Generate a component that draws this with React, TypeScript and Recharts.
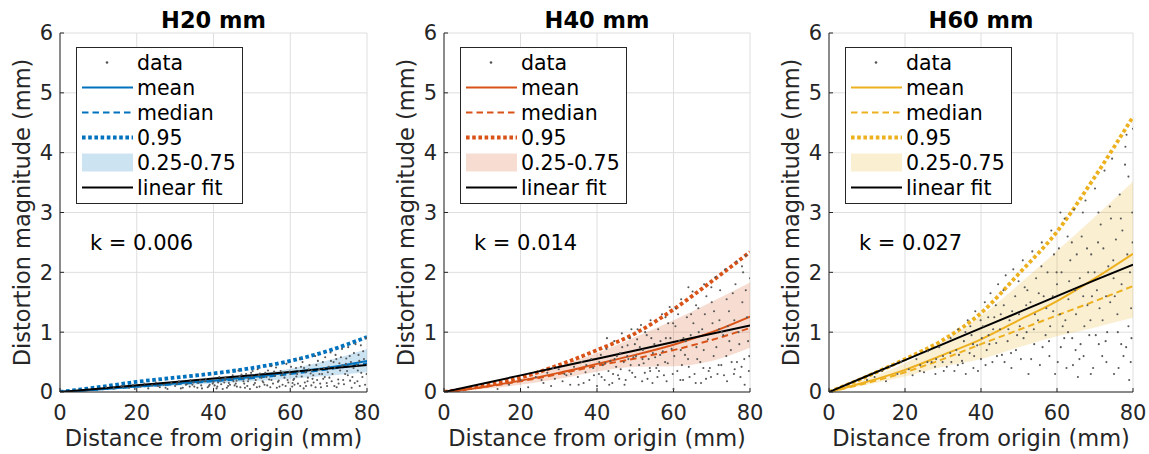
import React from 'react';
import { ComposedChart, Scatter, Line, Area, XAxis, YAxis, CartesianGrid, Legend, Customized } from 'recharts';

type Pt = [number, number];

const X_TICKS = [0, 20, 40, 60, 80];
const Y_TICKS = [0, 1, 2, 3, 4, 5, 6];
const GRID_X = [0, 10, 20, 30, 40, 50, 60, 70, 80];

const TITLES = ['H20 mm', 'H40 mm', 'H60 mm'];
const K_LABELS = ['k = 0.006', 'k = 0.014', 'k = 0.027'];
const COLORS = ['#0072BD', '#D95319', '#EDB120'];
const LEGEND_LABELS = ['data', 'mean', 'median', '0.95', '0.25-0.75', 'linear fit'];
const X_LABEL = 'Distance from origin (mm)';
const Y_LABEL = 'Distortion magnitude (mm)';

// H20
const H20_MEAN = [0, 0.04, 0.09, 0.14, 0.19, 0.25, 0.33, 0.41, 0.52];
const H20_MEDIAN = [0, 0.04, 0.09, 0.13, 0.18, 0.23, 0.3, 0.38, 0.48];
const H20_Q95 = [0, 0.08, 0.17, 0.24, 0.31, 0.4, 0.52, 0.69, 0.92];
const H20_LO = [0, 0.03, 0.07, 0.1, 0.14, 0.18, 0.22, 0.27, 0.33];
const H20_HI = [0, 0.05, 0.11, 0.16, 0.22, 0.29, 0.39, 0.53, 0.72];
const H20_FIT = [0, 0.056, 0.112, 0.168, 0.224, 0.28, 0.336, 0.392, 0.45];

// H40
const H40_MEAN = [0, 0.08, 0.19, 0.32, 0.47, 0.62, 0.79, 1.0, 1.26];
const H40_MEDIAN = [0, 0.08, 0.18, 0.3, 0.44, 0.56, 0.7, 0.87, 1.07];
const H40_Q95 = [0, 0.1, 0.24, 0.45, 0.7, 0.98, 1.38, 1.85, 2.34];
const H40_LO = [0, 0.05, 0.12, 0.22, 0.34, 0.42, 0.43, 0.52, 0.74];
const H40_HI = [0, 0.1, 0.22, 0.43, 0.65, 0.92, 1.2, 1.51, 1.83];
const H40_FIT = [0, 0.139, 0.278, 0.417, 0.556, 0.695, 0.834, 0.973, 1.11];

// H60
const H60_MEAN = [0, 0.17, 0.37, 0.62, 0.88, 1.2, 1.52, 1.9, 2.31];
const H60_MEDIAN = [0, 0.15, 0.33, 0.55, 0.8, 1.04, 1.28, 1.52, 1.77];
const H60_Q95 = [0, 0.26, 0.55, 0.87, 1.32, 1.98, 2.68, 3.6, 4.6];
const H60_LO = [0, 0.12, 0.26, 0.42, 0.55, 0.75, 0.93, 1.08, 1.24];
const H60_HI = [0, 0.22, 0.48, 0.85, 1.27, 1.8, 2.36, 2.93, 3.52];
const H60_FIT = [0, 0.267, 0.534, 0.801, 1.068, 1.335, 1.602, 1.869, 2.13];

const H20_POINTS: Pt[] = [
  [12, 0.08], [14, 0.06], [16, 0.1], [18, 0.07], [19, 0.12], [21, 0.09], [22, 0.14], [23, 0.06], [24, 0.11], [25, 0.16],
  [26, 0.08], [27, 0.12], [28, 0.05], [29, 0.15], [30, 0.1], [31, 0.18], [32, 0.07], [33, 0.13], [34, 0.2], [35, 0.09],
  [36, 0.15], [37, 0.06], [38, 0.22], [39, 0.12], [40, 0.17], [41, 0.09], [41.5, 0.25], [42, 0.13], [43, 0.2], [43.5, 0.07],
  [44, 0.15], [45, 0.28], [45.5, 0.11], [46, 0.19], [46.5, 0.36], [47, 0.08], [47.5, 0.23], [48, 0.14], [48.5, 0.3], [49, 0.18],
  [49.5, 0.05], [50, 0.26], [50.5, 0.12], [51, 0.2], [51.5, 0.38], [52, 0.09], [52.5, 0.24], [53, 0.16], [53.5, 0.32], [54, 0.11],
  [54.5, 0.21], [55, 0.43], [55.5, 0.14], [56, 0.27], [56.5, 0.07], [57, 0.19], [57.5, 0.35], [58, 0.12], [58.5, 0.24], [59, 0.47],
  [59.5, 0.16], [60, 0.3], [60.5, 0.09], [61, 0.22], [61.5, 0.4], [62, 0.14], [62.5, 0.55], [63, 0.26], [63.5, 0.06], [64, 0.33],
  [64.5, 0.18], [65, 0.45], [65.5, 0.11], [66, 0.28], [66.5, 0.6], [67, 0.2], [67.5, 0.38], [68, 0.08], [68.5, 0.5], [69, 0.25],
  [69.5, 0.15], [70, 0.42], [70.5, 0.66], [71, 0.3], [71.5, 0.1], [72, 0.55], [72.5, 0.21], [73, 0.36], [73.5, 0.72], [74, 0.13],
  [74.5, 0.47], [75, 0.28], [75.5, 0.6], [76, 0.07], [76.5, 0.4], [77, 0.8], [77.5, 0.18], [78, 0.52], [78.5, 0.32], [79, 0.68],
  [79.5, 0.12], [80, 0.45], [79.8, 0.9], [78.8, 0.25], [77.8, 0.62], [76.8, 0.15], [75.8, 0.5], [74.8, 0.35], [73.8, 0.2], [72.8, 0.48],
  [71.8, 0.62], [70.8, 0.18], [69.8, 0.33], [68.8, 0.4], [67.8, 0.14], [66.8, 0.45], [65.8, 0.22], [64.8, 0.38], [63.8, 0.16], [62.8, 0.42],
  [61.8, 0.3], [60.8, 0.2], [59.8, 0.34], [58.8, 0.1], [57.8, 0.28], [56.8, 0.17], [55.8, 0.34], [54.8, 0.08], [53.8, 0.25], [52.8, 0.18],
  [51.8, 0.28], [50.8, 0.15], [49.8, 0.32], [48.8, 0.1], [47.8, 0.18], [46.8, 0.26], [45.8, 0.14], [44.8, 0.22], [43.8, 0.1], [42.8, 0.16],
  [41.8, 0.2], [40.8, 0.06], [39.8, 0.14], [38.8, 0.1], [37.8, 0.18], [36.8, 0.11], [35.8, 0.07], [34.8, 0.16], [33.8, 0.09], [32.8, 0.12],
  [40.3, 0.11], [41.2, 0.16], [42.4, 0.05], [43.1, 0.24], [44.3, 0.12], [45.2, 0.18], [46.1, 0.09], [47.3, 0.29], [48.2, 0.07], [49.1, 0.22],
  [50.2, 0.35], [51.3, 0.08], [52.1, 0.31], [53.3, 0.12], [54.2, 0.36], [55.1, 0.2], [56.3, 0.41], [57.2, 0.09], [58.1, 0.32], [59.3, 0.2],
  [60.2, 0.42], [61.1, 0.12], [62.3, 0.35], [63.2, 0.5], [64.1, 0.1], [65.3, 0.31], [66.1, 0.16], [67.2, 0.52], [68.3, 0.3], [69.1, 0.58],
  [70.2, 0.24], [71.3, 0.5], [72.1, 0.08], [73.2, 0.58], [74.3, 0.3], [75.1, 0.75], [76.2, 0.25], [77.3, 0.45], [78.1, 0.1], [79.2, 0.55],
  [79.9, 0.3], [78.4, 0.78], [77.6, 0.36], [76.6, 0.65], [75.6, 0.19], [74.6, 0.56], [73.6, 0.44], [72.6, 0.14], [71.6, 0.4], [70.6, 0.52],
  [69.6, 0.1], [68.6, 0.22], [67.6, 0.3], [66.6, 0.08], [65.6, 0.36], [64.6, 0.24], [63.6, 0.4], [62.6, 0.1], [61.6, 0.26], [60.6, 0.15],
  [25.5, 0.1], [27.5, 0.07], [30.5, 0.14], [31.5, 0.06], [34.5, 0.12], [36.5, 0.19], [38.5, 0.08], [19.5, 0.05], [16.5, 0.08],
];

const H40_POINTS: Pt[] = [
  [14, 0.05], [17, 0.12], [20, 0.2], [22, 0.08], [24, 0.25], [26, 0.15], [27, 0.32], [28, 0.1], [29, 0.22], [30, 0.38],
  [31, 0.18], [32, 0.28], [33, 0.12], [34, 0.42], [35, 0.25], [36, 0.5], [36.5, 0.15], [37, 0.33], [38, 0.2], [38.5, 0.55],
  [39, 0.4], [40, 0.1], [40.5, 0.3], [41, 0.62], [41.5, 0.45], [42, 0.2], [42.5, 0.72], [43, 0.35], [43.5, 0.52], [44, 0.15],
  [44.5, 0.85], [45, 0.42], [45.5, 0.28], [46, 0.65], [46.5, 0.98], [47, 0.5], [47.5, 0.2], [48, 0.78], [48.5, 0.36], [49, 1.05],
  [49.5, 0.58], [50, 0.25], [50.5, 0.88], [51, 0.45], [51.5, 1.12], [52, 0.7], [52.5, 0.32], [53, 0.95], [53.5, 0.55], [54, 1.2],
  [54.5, 0.15], [55, 0.8], [55.5, 0.4], [56, 1.05], [56.5, 0.62], [57, 1.3], [57.5, 0.28], [58, 0.9], [58.5, 0.48], [59, 1.42],
  [59.5, 0.72], [60, 0.05], [60.5, 1.1], [61, 0.35], [61.5, 0.85], [62, 1.55], [62.5, 0.2], [63, 0.62], [63.5, 1.25], [64, 0.42],
  [64.5, 0.95], [65, 1.68], [65.5, 0.3], [66, 0.75], [66.5, 1.4], [67, 0.5], [67.5, 1.05], [68, 1.8], [68.5, 0.22], [69, 0.88],
  [69.5, 0.4], [70, 1.5], [70.5, 0.6], [71, 1.92], [71.5, 0.3], [72, 1.2], [72.5, 0.45], [73, 0.95], [73.5, 2.05], [74, 0.18],
  [74.5, 1.35], [75, 0.7], [75.5, 1.65], [76, 0.38], [76.5, 2.18], [77, 1.0], [77.5, 0.25], [78, 1.5], [78.5, 0.55], [79, 2.28],
  [79.5, 0.85], [80, 1.9], [79.7, 0.35], [79.2, 1.25], [78.2, 2.0], [77.2, 0.8], [76.2, 1.8], [75.2, 0.5], [74.2, 1.1], [73.2, 0.28],
  [72.2, 1.7], [71.2, 0.75], [70.2, 1.15], [69.2, 0.35], [68.2, 1.3], [67.2, 0.15], [66.2, 0.55], [65.2, 1.15], [64.2, 0.25], [63.2, 0.85],
  [62.2, 0.45], [61.2, 1.3], [60.2, 0.6], [59.2, 0.9], [58.2, 0.18], [57.2, 0.68], [56.2, 0.35], [55.2, 0.58], [54.2, 0.9], [53.2, 0.22],
  [52.2, 0.48], [51.2, 0.75], [50.2, 0.6], [49.2, 0.32], [48.2, 0.55], [47.2, 0.12], [46.2, 0.38], [45.2, 0.6], [44.2, 0.3], [43.2, 0.12],
  [42.2, 0.48], [41.2, 0.25], [39.2, 0.28], [37.2, 0.45], [35.2, 0.12], [33.2, 0.3],
  [45.8, 0.22], [48.8, 0.45], [51.8, 0.18], [53.8, 0.4], [55.8, 0.25], [57.8, 0.5], [59.8, 0.3], [61.8, 0.2], [63.8, 0.55], [65.8, 0.15],
  [67.8, 0.4], [69.8, 0.25], [71.8, 0.45], [73.8, 0.6], [75.8, 0.3], [77.8, 0.42], [79.8, 0.6], [78.6, 0.12], [76.6, 0.5], [74.6, 0.85],
  [72.6, 1.0], [70.6, 1.35], [68.6, 1.6], [66.6, 1.0], [64.6, 1.3], [62.6, 0.9], [60.6, 1.4], [58.6, 1.15], [56.6, 0.85], [54.6, 0.65],
  [52.6, 1.0], [50.6, 1.05], [48.6, 0.9], [46.6, 0.75], [44.6, 0.55], [42.6, 0.9], [40.6, 0.5], [78.9, 1.7], [77.9, 2.1], [75.9, 1.2],
  [73.9, 1.55], [71.9, 1.05], [69.9, 1.75], [67.9, 0.7], [65.9, 1.45], [63.9, 1.75], [61.9, 0.7], [59.9, 1.15], [57.9, 1.25], [55.9, 0.45],
  [53.9, 0.35], [51.9, 0.55], [49.9, 0.8], [47.9, 0.6], [31.5, 0.3], [28.5, 0.4], [25.5, 0.2],
];

const H60_POINTS: Pt[] = [
  [10, 0.2], [12, 0.25], [14, 0.35], [15, 0.18], [16, 0.42], [18, 0.3], [19, 0.5], [21, 0.38], [22, 0.28], [23, 0.55],
  [24, 0.45], [25, 0.33], [26, 0.68], [27, 0.5], [28, 0.3], [29, 0.75], [30, 0.6], [31, 0.42], [32, 0.9], [33, 0.35],
  [33.5, 0.7], [34, 1.05], [35, 0.52], [35.5, 0.85], [36, 0.3], [36.5, 1.2], [37, 0.65], [37.5, 0.95], [38, 0.4], [38.5, 1.35],
  [39, 0.78], [40, 0.55], [40.5, 1.1], [41, 1.5], [41.5, 0.7], [42, 0.95], [42.5, 1.65], [43, 0.5], [43.5, 1.25], [44, 0.82],
  [44.5, 1.8], [45, 1.05], [45.5, 0.62], [46, 1.45], [46.5, 1.95], [47, 0.85], [47.5, 1.2], [48, 0.4], [48.5, 2.05], [49, 1.6],
  [49.5, 0.95], [50, 1.3], [50.5, 0.55], [51, 2.2], [51.5, 1.75], [52, 1.0], [52.5, 0.3], [53, 1.5], [53.5, 2.35], [54, 0.8],
  [54.5, 1.9], [55, 1.2], [55.5, 0.45], [56, 2.5], [56.5, 1.6], [57, 0.95], [57.5, 2.0], [58, 0.6], [58.5, 2.7], [59, 1.35],
  [59.5, 0.3], [60, 1.8], [60.5, 2.4], [61, 0.75], [61.5, 1.1], [62, 2.9], [62.5, 0.4], [63, 1.55], [63.5, 2.2], [64, 0.9],
  [64.5, 3.05], [65, 1.3], [65.5, 0.25], [66, 1.9], [66.5, 2.6], [67, 0.6], [67.5, 3.2], [68, 1.45], [68.5, 0.95], [69, 2.3],
  [69.5, 0.4], [70, 3.4], [70.5, 1.7], [71, 0.8], [71.5, 2.8], [72, 1.2], [72.5, 3.7], [73, 0.5], [73.5, 2.1], [74, 1.5],
  [74.5, 3.9], [75, 0.3], [75.5, 2.55], [76, 1.0], [76.5, 3.3], [77, 1.8], [77.5, 0.6], [78, 4.1], [78.5, 2.3], [79, 0.2],
  [79.5, 1.4], [80, 4.4], [79.8, 3.0], [79.6, 0.9], [79.2, 2.0], [78.8, 3.6], [78.2, 0.75], [77.2, 2.7], [76.2, 0.4], [75.2, 1.6],
  [74.2, 2.9], [73.2, 1.0], [72.2, 2.4], [71.2, 1.4], [70.2, 0.95], [69.2, 1.6], [68.2, 2.0], [67.2, 1.1], [66.2, 0.8], [65.2, 2.3],
  [64.2, 0.45], [63.2, 1.85], [62.2, 1.2], [61.2, 2.0], [60.2, 0.5], [59.2, 2.3], [58.2, 1.1], [57.2, 1.4], [56.2, 0.75], [55.2, 1.65],
  [54.2, 1.3], [53.2, 0.55], [52.2, 1.7], [51.2, 0.9], [50.2, 1.1], [49.2, 0.7], [48.2, 1.35], [47.2, 1.05], [46.2, 0.5], [45.2, 1.3],
  [44.2, 0.6], [43.2, 1.05], [42.2, 0.8], [41.2, 0.45], [40.2, 0.9], [39.2, 0.35], [38.2, 0.6], [37.2, 1.1], [35.2, 0.48], [34.2, 0.62],
  [32.2, 0.5], [30.2, 0.35], [28.2, 0.55],
  [60.8, 1.3], [62.8, 2.6], [64.8, 1.7], [66.8, 3.0], [68.8, 1.2], [70.8, 2.5], [72.8, 0.85], [74.8, 2.2], [76.8, 2.9], [78.8, 1.1],
  [79.9, 2.5], [77.9, 3.8], [75.9, 1.3], [73.9, 3.1], [71.9, 0.6], [69.9, 2.0], [67.9, 2.4], [65.9, 0.55], [63.9, 2.5], [61.9, 0.9],
  [59.9, 2.0], [57.9, 0.85], [55.9, 2.1], [53.9, 1.05], [51.9, 1.45], [49.9, 1.85], [47.9, 0.65], [45.9, 1.7], [43.9, 1.45], [41.9, 1.25],
  [39.9, 1.2], [37.9, 0.8], [35.9, 1.0], [33.9, 0.45], [31.9, 0.65], [29.9, 0.5], [27.9, 0.42], [25.9, 0.5], [23.9, 0.35], [79.4, 0.5],
  [78.3, 4.3], [76.9, 0.8], [74.9, 1.9], [72.9, 1.6], [70.9, 3.0], [68.9, 0.3], [66.9, 1.6], [64.9, 0.7], [62.9, 1.0], [60.9, 3.0],
  [58.9, 1.6],
];

const FONT = 'DejaVu Sans';
const AXIS_COLOR = '#262626';
const H = 454;
const PLOT_TOP = 33;
const PLOT_BOTTOM = 392;
const Y_AXIS_W = 60;

interface PanelProps {
  idx: number;
  left: number;
  width: number;
  marginRight: number;
  points: Pt[];
  mean: number[];
  median: number[];
  q95: number[];
  lo: number[];
  hi: number[];
  fit: number[];
}

const Dot = (p: any) => <circle cx={p.cx} cy={p.cy} r={1.05} fill="#585858" />;

function makeLegend(color: string) {
  return () => (
    <svg width={167} height={157} style={{ display: 'block' }}>
      <rect x={0.5} y={0.5} width={166} height={156} fill="#fff" stroke={AXIS_COLOR} strokeWidth={1} />
      {LEGEND_LABELS.map((lab, i) => {
        const cy = 15.5 + 25 * i;
        let sample: React.ReactNode = null;
        if (i === 0) sample = <circle cx={31} cy={cy} r={1.3} fill="#555" />;
        else if (i === 1) sample = <line x1={6} x2={57} y1={cy} y2={cy} stroke={color} strokeWidth={2} />;
        else if (i === 2) sample = <line x1={6} x2={57} y1={cy} y2={cy} stroke={color} strokeWidth={2} strokeDasharray="6.5 4" />;
        else if (i === 3) sample = <line x1={6} x2={57} y1={cy} y2={cy} stroke={color} strokeWidth={3.8} strokeDasharray="3.6 2.6" />;
        else if (i === 4) sample = <rect x={6} y={cy - 9} width={51} height={18} fill={color} fillOpacity={0.2} />;
        else sample = <line x1={6} x2={57} y1={cy} y2={cy} stroke="#000" strokeWidth={2} />;
        return (
          <g key={lab}>
            {sample}
            <text x={61} y={cy + 7.5} fontSize={20.5} fontFamily={FONT} fill="#000">{lab}</text>
          </g>
        );
      })}
    </svg>
  );
}

function Panel(props: PanelProps) {
  const { idx, left, width, marginRight, points } = props;
  const color = COLORS[idx];
  const plotLeft = Y_AXIS_W;
  const plotRight = width - marginRight;
  const cx = (plotLeft + plotRight) / 2;
  const scatterData = points.map(([x, y]) => ({ x, y }));
  const lineData = GRID_X.map((x, i) => ({
    x,
    mean: props.mean[i],
    median: props.median[i],
    q95: props.q95[i],
    band: [props.lo[i], props.hi[i]],
    fit: props.fit[i],
  }));
  const tickStyle = { fontSize: 21, fill: AXIS_COLOR, fontFamily: FONT };
  return (
    <div style={{ position: 'absolute', left, top: 0 }}>
      <ComposedChart
        width={width}
        height={H}
        margin={{ top: PLOT_TOP, right: marginRight, bottom: 0, left: 0 }}
        style={{ fontFamily: FONT }}
      >
        <CartesianGrid stroke="#dedede" strokeWidth={1} />
        <XAxis
          xAxisId={0}
          type="number"
          dataKey="x"
          domain={[0, 80]}
          ticks={X_TICKS}
          allowDataOverflow
          height={H - PLOT_BOTTOM}
          tickSize={-4}
          tickMargin={17.5}
          tick={tickStyle}
          stroke={AXIS_COLOR}
          axisLine={{ stroke: AXIS_COLOR }}
          tickLine={{ stroke: AXIS_COLOR }}
        />
        <XAxis
          xAxisId="top"
          orientation="top"
          type="number"
          dataKey="x"
          domain={[0, 80]}
          ticks={X_TICKS}
          allowDataOverflow
          height={0}
          tickSize={-4}
          tick={false}
          axisLine={{ stroke: AXIS_COLOR }}
          tickLine={{ stroke: AXIS_COLOR }}
        />
        <YAxis
          yAxisId={0}
          type="number"
          domain={[0, 6]}
          ticks={Y_TICKS}
          allowDataOverflow
          width={Y_AXIS_W}
          tickSize={-4}
          tickMargin={11}
          tick={tickStyle}
          axisLine={{ stroke: AXIS_COLOR }}
          tickLine={{ stroke: AXIS_COLOR }}
        />
        <YAxis
          yAxisId="right"
          orientation="right"
          type="number"
          domain={[0, 6]}
          ticks={Y_TICKS}
          allowDataOverflow
          width={0}
          tickSize={-4}
          tick={false}
          axisLine={{ stroke: AXIS_COLOR }}
          tickLine={{ stroke: AXIS_COLOR }}
        />
        <Scatter data={scatterData} dataKey="y" shape={Dot} isAnimationActive={false} legendType="none" />
        <Line data={lineData} dataKey="mean" type="monotone" stroke={color} strokeWidth={2} dot={false} activeDot={false} isAnimationActive={false} />
        <Line data={lineData} dataKey="median" type="monotone" stroke={color} strokeWidth={2} strokeDasharray="6.5 4" dot={false} activeDot={false} isAnimationActive={false} />
        <Line data={lineData} dataKey="q95" type="monotone" stroke={color} strokeWidth={3.8} strokeDasharray="3.6 2.6" dot={false} activeDot={false} isAnimationActive={false} />
        <Area data={lineData} dataKey="band" type="monotone" stroke="none" fill={color} fillOpacity={0.2} dot={false} activeDot={false} isAnimationActive={false} />
        <Line data={lineData} dataKey="fit" type="linear" stroke="#000" strokeWidth={2} dot={false} activeDot={false} isAnimationActive={false} />
        <Legend
          layout="vertical"
          align="center"
          verticalAlign="middle"
          content={makeLegend(color)}
          wrapperStyle={{ left: plotLeft + 16, top: 47, width: 167, height: 157, margin: 0, padding: 0 }}
        />
        <Customized
          component={() => (
            <g>
              <text x={cx} y={28} textAnchor="middle" fontSize={22.5} fontWeight="bold" fontFamily={FONT} fill="#000">
                {TITLES[idx]}
              </text>
              <text x={plotLeft + 30} y={250} fontSize={21} fontFamily={FONT} fill="#000">
                {K_LABELS[idx]}
              </text>
              <text x={cx} y={446} textAnchor="middle" fontSize={22.5} fontFamily={FONT} fill={AXIS_COLOR}>
                {X_LABEL}
              </text>
              <text
                x={30}
                y={(PLOT_TOP + PLOT_BOTTOM) / 2}
                textAnchor="middle"
                fontSize={22.5}
                fontFamily={FONT}
                fill={AXIS_COLOR}
                transform={`rotate(-90, 30, ${(PLOT_TOP + PLOT_BOTTOM) / 2})`}
              >
                {Y_LABEL}
              </text>
            </g>
          )}
        />
      </ComposedChart>
    </div>
  );
}

export default function App() {
  return (
    <div style={{ position: 'absolute', left: 0, top: 0, width: 1149, height: 454, background: '#fff' }}>
      <Panel idx={0} left={0} width={380} marginRight={13} points={H20_POINTS}
        mean={H20_MEAN} median={H20_MEDIAN} q95={H20_Q95} lo={H20_LO} hi={H20_HI} fit={H20_FIT} />
      <Panel idx={1} left={384} width={380} marginRight={14} points={H40_POINTS}
        mean={H40_MEAN} median={H40_MEDIAN} q95={H40_Q95} lo={H40_LO} hi={H40_HI} fit={H40_FIT} />
      <Panel idx={2} left={769} width={380} marginRight={16} points={H60_POINTS}
        mean={H60_MEAN} median={H60_MEDIAN} q95={H60_Q95} lo={H60_LO} hi={H60_HI} fit={H60_FIT} />
    </div>
  );
}
